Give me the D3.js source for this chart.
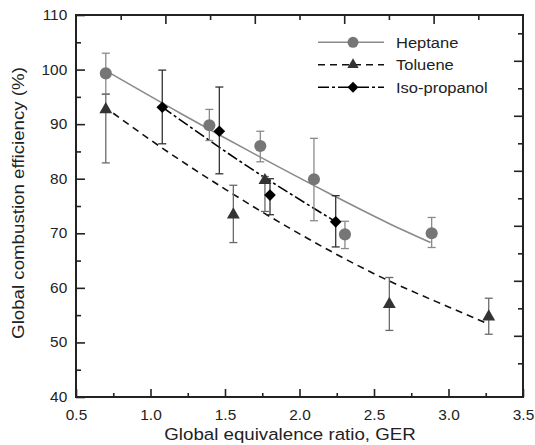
<!DOCTYPE html>
<html>
<head>
<meta charset="utf-8">
<script src="https://cdn.jsdelivr.net/npm/d3@7"></script>
<style>
  body { margin: 0; background: white; }
  text { font-family: "Liberation Sans", Arial, sans-serif; fill: #222; }
</style>
</head>
<body>
<svg id="chart"></svg>
<script>
// measured points
const heptaneGER  = [0.70, 1.395, 1.737, 2.097, 2.305, 2.887];
const heptaneEff  = [99.3, 89.8, 86.0, 79.9, 69.8, 70.0];
const heptaneLow  = [95.5, 87.0, 83.1, 72.3, 67.2, 67.4];
const heptaneHigh = [103.0, 92.7, 88.7, 87.4, 72.2, 72.9];

const tolueneGER  = [0.70, 1.556, 1.768, 2.603, 3.27];
const tolueneEff  = [92.7, 73.4, 79.7, 57.0, 54.7];
const tolueneLow  = [82.9, 68.3, 74.0, 52.2, 51.5];
const tolueneHigh = [95.5, 78.8, 80.4, 61.9, 58.1];

const isoGER  = [1.079, 1.462, 1.802, 2.243];
const isoEff  = [93.1, 88.7, 77.0, 72.1];
const isoLow  = [86.4, 80.9, 73.4, 67.5];
const isoHigh = [99.9, 96.8, 80.0, 76.9];

// fitted curves
const heptaneFitGER = [0.70, 1.2, 1.7, 2.2, 2.6, 2.88];
const heptaneFitEff = [99.8, 92.0, 84.5, 77.3, 71.8, 68.3];
const tolueneFitGER = [0.75, 1.0, 1.5, 2.0, 2.5, 3.0, 3.25];
const tolueneFitEff = [92.0, 87.1, 78.1, 69.9, 62.6, 56.5, 53.6];
const isoFitGER = [1.08, 1.6, 2.25];
const isoFitEff = [93.1, 83.2, 72.0];

// ticks
const xTicks = [0.5, 1.0, 1.5, 2.0, 2.5, 3.0, 3.5];
const xMinor = [0.75, 1.25, 1.75, 2.25, 2.75, 3.25];
const yTicks = [40, 50, 60, 70, 80, 90, 100, 110];
const yMinor = [45, 55, 65, 75, 85, 95, 105];
const topLong = [2, 4, 6, 8], topShort = [1, 3, 5, 7, 9];
const rightLong = [1, 3, 5, 7, 9, 11], rightShort = [0, 2, 4, 6, 8, 10, 12];

const legendNames = ["Heptane", "Toluene", "Iso-propanol"];

const dimensions = {
    width: 447,
    height: 382,
    margin: { top: 15, right: 12, bottom: 48, left: 76 }
};
const stretch = "scale(1.1,1)";

const svg = d3.select("#chart")
    .attr("width", 535)
    .attr("height", 445);

const g = svg.append("g")
    .attr("transform", `translate(${dimensions.margin.left},${dimensions.margin.top})`);

const x = d3.scaleLinear().domain([0.5, 3.5]).range([0, dimensions.width]);
const y = d3.scaleLinear().domain([40, 110]).range([dimensions.height, 0]);
const xTop = d3.scaleLinear().domain([0, 10]).range([0, dimensions.width]);
const yRight = d3.scaleLinear().domain([-1.225, 12.665]).range([dimensions.height, 0]);

function tickAxis(axis, tr, size, values) {
    const a = g.append("g")
        .attr("transform", tr)
        .call(axis.tickValues(values).tickSizeInner(size).tickSizeOuter(0).tickFormat(""));
    a.select(".domain").remove();
    a.selectAll("line").attr("stroke", "#222").attr("stroke-width", 1.6);
    return a;
}

// bottom
const bottom = g.append("g")
    .attr("transform", `translate(0,${dimensions.height})`)
    .call(d3.axisBottom(x).tickValues(xTicks).tickSizeInner(-8).tickSizeOuter(0)
        .tickPadding(13).tickFormat(d3.format(".1f")));
bottom.select(".domain").remove();
bottom.selectAll("line").attr("stroke", "#222").attr("stroke-width", 1.6);
bottom.selectAll("text").attr("font-size", 14).attr("transform", stretch)
    .style("font-family", "Liberation Sans, Arial, sans-serif").attr("fill", "#222");
tickAxis(d3.axisBottom(x), `translate(0,${dimensions.height})`, -4, xMinor);

// left
const left = g.append("g")
    .call(d3.axisLeft(y).tickValues(yTicks).tickSizeInner(-9).tickSizeOuter(0).tickPadding(8));
left.select(".domain").remove();
left.selectAll("line").attr("stroke", "#222").attr("stroke-width", 1.6);
left.selectAll("text").attr("font-size", 14).attr("transform", stretch)
    .style("font-family", "Liberation Sans, Arial, sans-serif").attr("fill", "#222");
tickAxis(d3.axisLeft(y), "translate(0,0)", -5, yMinor);

// top and right mirrored ticks
tickAxis(d3.axisTop(xTop), "translate(0,0)", -9, topLong);
tickAxis(d3.axisTop(xTop), "translate(0,0)", -5, topShort);
tickAxis(d3.axisRight(yRight), `translate(${dimensions.width},0)`, -9, rightLong);
tickAxis(d3.axisRight(yRight), `translate(${dimensions.width},0)`, -5, rightShort);

g.append("rect")
    .attr("width", dimensions.width)
    .attr("height", dimensions.height)
    .attr("fill", "none")
    .attr("stroke", "#222")
    .attr("stroke-width", 2);

// axis titles
svg.append("text")
    .attr("transform", `translate(290,440) ${stretch}`)
    .attr("text-anchor", "middle")
    .attr("font-size", 17)
    .text("Global equivalence ratio, GER");

svg.append("text")
    .attr("transform", `translate(24,203) rotate(-90) ${stretch}`)
    .attr("text-anchor", "middle")
    .attr("font-size", 17)
    .text("Global combustion efficiency (%)");

const series = [
    { ger: heptaneGER, eff: heptaneEff, low: heptaneLow, high: heptaneHigh,
      fitX: heptaneFitGER, fitY: heptaneFitEff, line: "#8a8a8a", dash: null,
      bar: "#8a8a8a", fill: "#767676", symbol: d3.symbolCircle, size: 115, rot: 0,
      legSize: 95 },
    { ger: tolueneGER, eff: tolueneEff, low: tolueneLow, high: tolueneHigh,
      fitX: tolueneFitGER, fitY: tolueneFitEff, line: "#111", dash: "7,5",
      bar: "#6a6a6a", fill: "#333", symbol: d3.symbolTriangle, size: 72, rot: 0,
      legSize: 55 },
    { ger: isoGER, eff: isoEff, low: isoLow, high: isoHigh,
      fitX: isoFitGER, fitY: isoFitEff, line: "#000", dash: "11,3,3,3",
      bar: "#333", fill: "#000", symbol: d3.symbolSquare, size: 68, rot: 45,
      legSize: 60 }
];

const line = d3.line()
    .x(d => x(d[0]))
    .y(d => y(d[1]))
    .curve(d3.curveMonotoneX);

// fit curves
series.forEach(s => {
    g.append("path")
        .datum(s.fitX.map((v, i) => [v, s.fitY[i]]))
        .attr("fill", "none")
        .attr("stroke", s.line)
        .attr("stroke-width", 1.6)
        .attr("stroke-dasharray", s.dash)
        .attr("d", line);
});

// error bars
series.forEach(s => {
    const bars = g.append("g")
        .attr("stroke", s.bar)
        .attr("stroke-width", 1.3)
        .selectAll("g")
        .data(s.ger.map((v, i) => ({ x: v, lo: s.low[i], hi: s.high[i] })))
        .enter().append("g");
    bars.append("line")
        .attr("x1", d => x(d.x)).attr("x2", d => x(d.x))
        .attr("y1", d => y(d.lo)).attr("y2", d => y(d.hi));
    bars.append("line")
        .attr("x1", d => x(d.x) - 4).attr("x2", d => x(d.x) + 4)
        .attr("y1", d => y(d.lo)).attr("y2", d => y(d.lo));
    bars.append("line")
        .attr("x1", d => x(d.x) - 4).attr("x2", d => x(d.x) + 4)
        .attr("y1", d => y(d.hi)).attr("y2", d => y(d.hi));
});

// markers
series.forEach(s => {
    g.selectAll(null)
        .data(s.ger.map((v, i) => [v, s.eff[i]]))
        .enter().append("path")
        .attr("d", d3.symbol().type(s.symbol).size(s.size))
        .attr("transform", d => `translate(${x(d[0])},${y(d[1])}) rotate(${s.rot})`)
        .attr("fill", s.fill);
});

// legend
const legend = svg.selectAll(".legend")
    .data(series)
    .enter().append("g")
    .attr("class", "legend")
    .attr("transform", (d, i) => `translate(0,${42.3 + i * 22.5})`);

legend.append("line")
    .attr("x1", 318).attr("x2", 384)
    .attr("stroke", d => d.line)
    .attr("stroke-width", 1.6)
    .attr("stroke-dasharray", d => d.dash);

legend.append("path")
    .attr("d", d => d3.symbol().type(d.symbol).size(d.legSize)())
    .attr("transform", d => `translate(353,0) rotate(${d.rot})`)
    .attr("fill", d => d.fill);

legend.append("text")
    .attr("transform", `translate(396,0) ${stretch}`)
    .attr("dy", "0.36em")
    .attr("font-size", 15)
    .text((d, i) => legendNames[i]);
</script>
</body>
</html>
